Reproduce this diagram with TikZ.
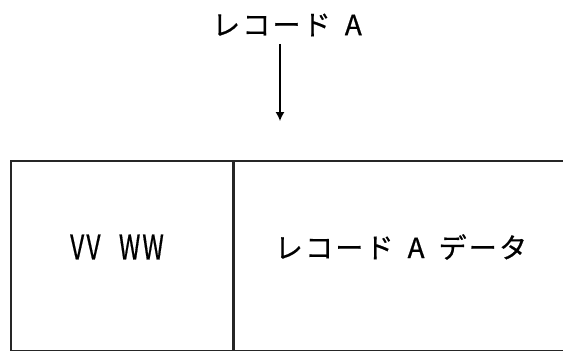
\documentclass[tikz,border=0pt]{standalone}
\usepackage{fontspec}
\setmainfont{Noto Sans CJK JP}[LetterSpace=8,FakeBold=0.6]
\usepackage{tikz}
\usetikzlibrary{positioning,arrows.meta}

\begin{document}
\begin{tikzpicture}[x=1pt,y=1pt,
    cell/.style={draw=black!85, line width=1.5pt, minimum height=190pt, inner sep=0pt},
    jp/.style={font=\fontsize{28}{30}\selectfont}]
      %
      \useasboundingbox (0,0) rectangle (563,-351);

      % record label and arrow
      \node[jp] (rec) at (287,-25) {レコード\hspace{0.5em}A};
      \coordinate (tip) at (280,-121);
      \draw[line width=1.3pt, -{Latex[length=9pt,width=9pt]}] (rec.south -| tip) ++(0,-4) -- (tip);

      % record layout
      \node[cell, minimum width=222pt, anchor=north west] (key) at (10,-160) {};
      \node[cell, minimum width=338pt, anchor=west] (data) at (key.east) {};
      \node[jp, font=\fontsize{34}{36}\selectfont] (keytxt) at (117,-247) {\scalebox{0.72}[1]{VV\hspace{0.75em}WW}};
      \node[jp] (datatxt) at (401,-247) {レコード\hspace{0.5em}A\hspace{0.5em}データ};
    \end{tikzpicture}
\end{document}
